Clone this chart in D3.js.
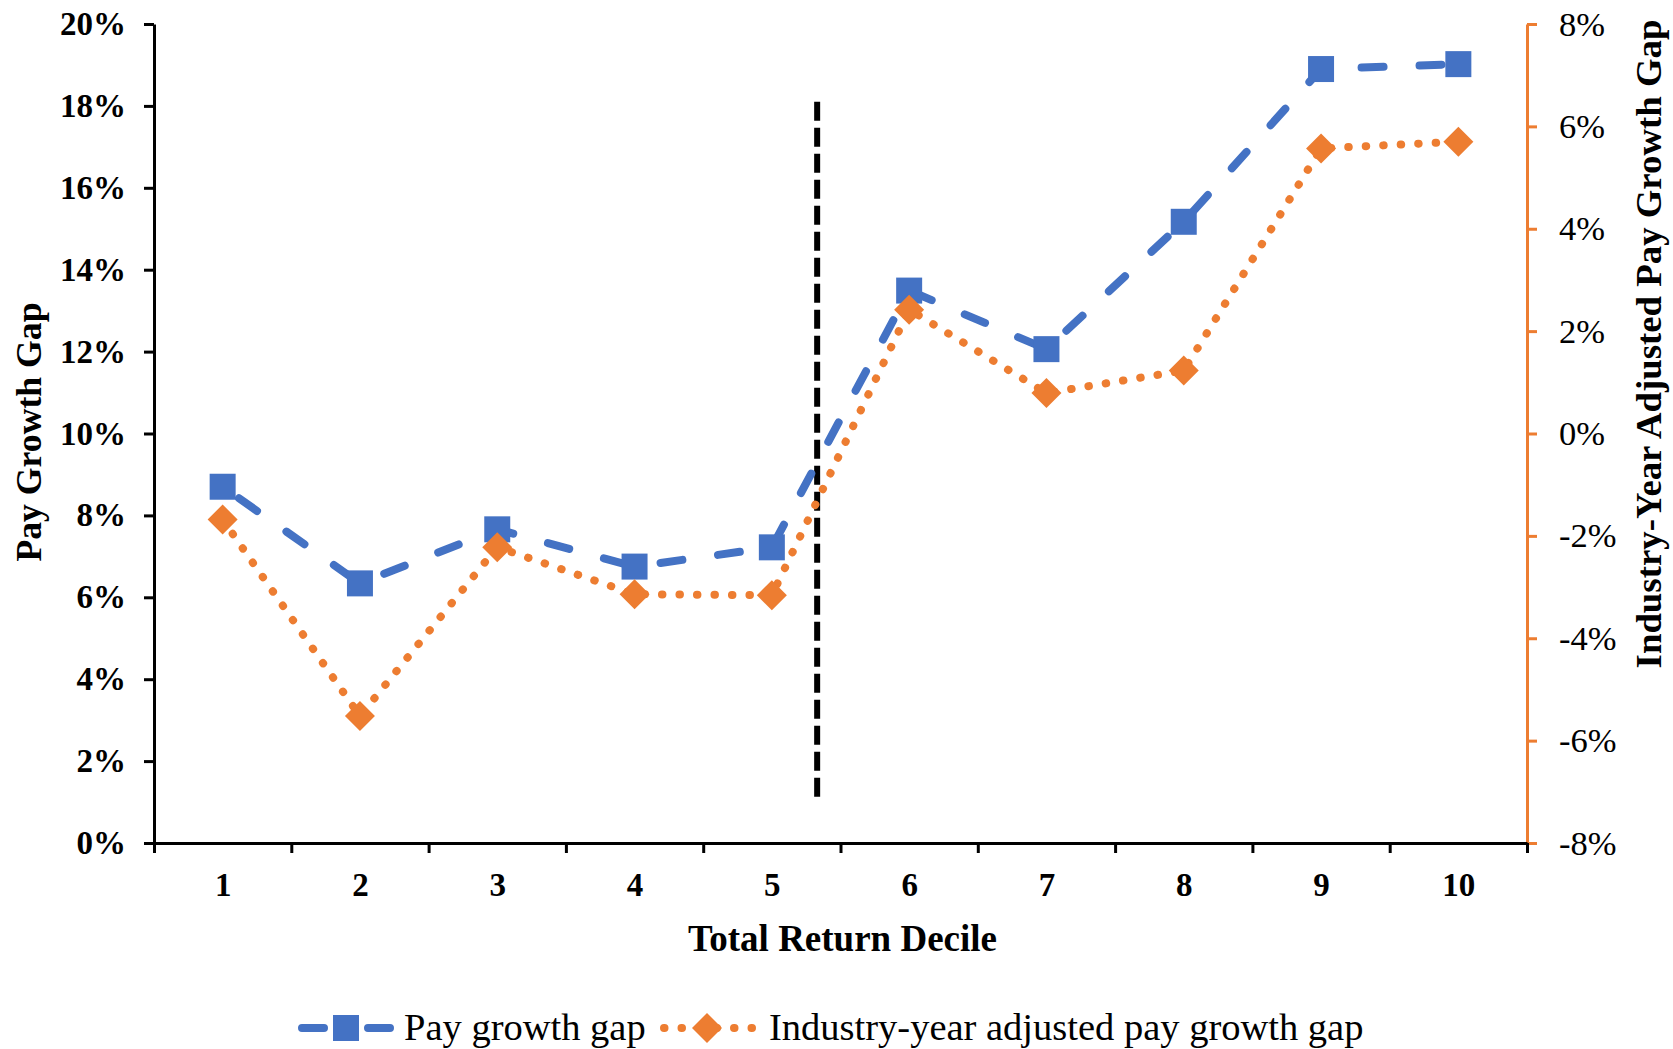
<!DOCTYPE html>
<html><head><meta charset="utf-8">
<script src="https://cdn.jsdelivr.net/npm/d3@7"></script>
<style>
body{margin:0;background:#fff}
text{font-family:"Liberation Serif","Times New Roman",serif;fill:#000}
</style>
</head><body>
<svg id="c" width="1673" height="1049"></svg>
<script>
// ---- data ----
const deciles = [1, 2, 3, 4, 5, 6, 7, 8, 9, 10];
const payGrowthGap = [8.70, 6.34, 7.66, 6.75, 7.22, 13.49, 12.06, 15.17, 18.90, 19.02];
const adjustedGap = [-1.68, -5.52, -2.22, -3.14, -3.16, 2.42, 0.79, 1.23, 5.57, 5.70];
const leftTicks = [0, 2, 4, 6, 8, 10, 12, 14, 16, 18, 20];
const rightTicks = [-8, -6, -4, -2, 0, 2, 4, 6, 8];
const dividerDecile = 5.33;
const dividerSpan = [1.0, 18.1];
const seriesNames = ["Pay growth gap", "Industry-year adjusted pay growth gap"];
const xTitle = "Total Return Decile";
const yLeftTitle = "Pay Growth Gap";
const yRightTitle = "Industry-Year Adjusted Pay Growth Gap";

// ---- styles ----
const BLUE = "#4472C4", ORANGE = "#ED7D31";
const L = 154, R = 1527, T = 24, B = 843;

const svg = d3.select("#c");
const x = d3.scaleLinear().domain([0.5, 10.5]).range([L, R]);
const yL = d3.scaleLinear().domain([0, 20]).range([B, T]);
const yR = d3.scaleLinear().domain([-8, 8]).range([B, T]);

function styleAxis(g, color, fs, weight) {
  g.select(".domain").attr("stroke", color).attr("stroke-width", 3);
  g.selectAll(".tick line").attr("stroke", color).attr("stroke-width", 3);
  g.selectAll(".tick text").attr("fill", "#000").style("font-size", fs + "px")
    .style("font-weight", weight).style("font-family", '"Liberation Serif",serif');
}

// right axis (orange)
const gR = svg.append("g").attr("transform", `translate(${R},0)`)
  .call(d3.axisRight(yR).tickValues(rightTicks).tickSize(10).tickSizeOuter(0)
    .tickPadding(22).tickFormat(d => d + "%"));
styleAxis(gR, ORANGE, 34.5, "normal");

// left axis
const gL = svg.append("g").attr("transform", `translate(${L},0)`)
  .call(d3.axisLeft(yL).tickValues(leftTicks).tickSize(10).tickSizeOuter(0)
    .tickPadding(18).tickFormat(d => d + "%"));
styleAxis(gL, "#000", 33, "bold");

// bottom axis: boundary ticks
const bounds = d3.range(0, 11).map(i => i + 0.5);
const gB = svg.append("g").attr("transform", `translate(0,${B})`)
  .call(d3.axisBottom(x).tickValues(bounds).tickSize(10).tickSizeOuter(0).tickFormat(""));
styleAxis(gB, "#000", 32, "bold");
// bottom axis labels
const gB2 = svg.append("g").attr("transform", `translate(0,${B})`)
  .call(d3.axisBottom(x).tickValues(deciles).tickSize(0).tickPadding(30).tickFormat(d3.format("d")));
gB2.select(".domain").remove();
styleAxis(gB2, "#000", 33, "bold");

// axis titles
svg.append("text").attr("x", (L + R) / 2 + 2).attr("y", 951).attr("text-anchor", "middle")
  .style("font-size", "37px").style("font-weight", "bold").text(xTitle);
svg.append("text").attr("transform", `translate(41,432) rotate(-90)`).attr("text-anchor", "middle")
  .style("font-size", "35.7px").style("font-weight", "bold").text(yLeftTitle);
svg.append("text").attr("transform", `translate(1661,344) rotate(-90)`).attr("text-anchor", "middle")
  .style("font-size", "36.8px").style("font-weight", "bold").text(yRightTitle);

// divider
svg.append("line").attr("x1", x(dividerDecile)).attr("x2", x(dividerDecile))
  .attr("y1", yL(dividerSpan[1])).attr("y2", yL(dividerSpan[0]))
  .attr("stroke", "#000").attr("stroke-width", 6).attr("stroke-dasharray", "19,7");

// series
const blueData = deciles.map((d, i) => [d, payGrowthGap[i]]);
const orangeData = deciles.map((d, i) => [d, adjustedGap[i]]);

svg.append("path").datum(blueData)
  .attr("d", d3.line().x(d => x(d[0])).y(d => yL(d[1])))
  .attr("fill", "none").attr("stroke", BLUE).attr("stroke-width", 8)
  .attr("stroke-linecap", "round").attr("stroke-dasharray", "22,36").attr("stroke-dashoffset", -20);
const sq = d3.symbol().type(d3.symbolSquare).size(676);
svg.selectAll(".sq").data(blueData).join("path").attr("class", "sq")
  .attr("d", sq).attr("fill", BLUE)
  .attr("transform", d => `translate(${x(d[0])},${yL(d[1])})`);

svg.append("path").datum(orangeData)
  .attr("d", d3.line().x(d => x(d[0])).y(d => yR(d[1])))
  .attr("fill", "none").attr("stroke", ORANGE).attr("stroke-width", 8)
  .attr("stroke-linecap", "round").attr("stroke-dasharray", "0.5,17");
const dm = d3.symbol().type(d3.symbolSquare).size(450);
svg.selectAll(".dm").data(orangeData).join("path").attr("class", "dm")
  .attr("d", dm).attr("fill", ORANGE)
  .attr("transform", d => `translate(${x(d[0])},${yR(d[1])}) rotate(45)`);

// legend
const ly = 1028;
const lg = svg.append("g");
lg.append("line").attr("x1", 302).attr("x2", 390).attr("y1", ly).attr("y2", ly)
  .attr("stroke", BLUE).attr("stroke-width", 8).attr("stroke-linecap", "round").attr("stroke-dasharray", "22,44");
lg.append("path").attr("d", sq).attr("fill", BLUE).attr("transform", `translate(346,${ly})`);
lg.append("text").attr("x", 404).attr("y", ly + 12).style("font-size", "38.5px").text(seriesNames[0]);
lg.append("line").attr("x1", 664).attr("x2", 752).attr("y1", ly).attr("y2", ly)
  .attr("stroke", ORANGE).attr("stroke-width", 8).attr("stroke-linecap", "round").attr("stroke-dasharray", "0.5,17");
lg.append("path").attr("d", dm).attr("fill", ORANGE).attr("transform", `translate(707,${ly}) rotate(45)`);
lg.append("text").attr("x", 769).attr("y", ly + 12).style("font-size", "38.5px").text(seriesNames[1]);
</script>
</body></html>
